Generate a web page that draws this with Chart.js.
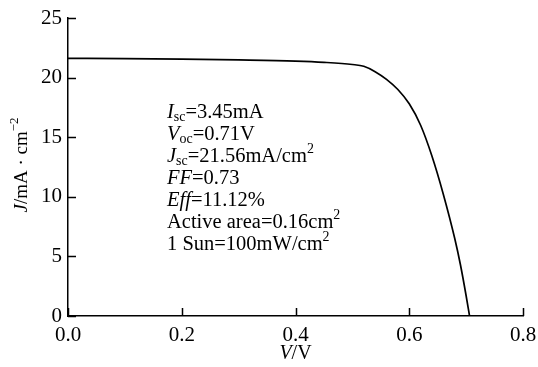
<!DOCTYPE html>
<html>
<head>
<meta charset="utf-8">
<script src="https://cdn.jsdelivr.net/npm/chart.js@4"></script>
<style>
  html, body { margin: 0; padding: 0; background: #fff; }
  #wrap { width: 538px; height: 367px; }
</style>
</head>
<body>
<div id="wrap"><canvas id="jv"></canvas></div>
<script>
// J-V curve
const voltage = [0, 0.1, 0.2, 0.3, 0.4, 0.45, 0.5, 0.52, 0.54, 0.56, 0.58, 0.6, 0.62, 0.64, 0.66, 0.68, 0.69, 0.70, 0.706];
const currentDensity = [21.62, 21.6, 21.55, 21.48, 21.38, 21.28, 21.1, 20.95, 20.5, 19.85, 19.0, 17.8, 16.0, 13.4, 10.2, 6.5, 4.3, 1.7, 0];

const xTicks = [0, 0.2, 0.4, 0.6, 0.8];
const yTicks = [0, 5, 10, 15, 20, 25];

// annotation lines: [text, style] where style is '', 'i' (italic), 's' (subscript), 'p' (superscript)
const infoLines = [
    [['I', 'i'], ['sc', 's'], ['=3.45mA', '']],
    [['V', 'i'], ['oc', 's'], ['=0.71V', '']],
    [['J', 'i'], ['sc', 's'], ['=21.56mA/cm', ''], ['2', 'p']],
    [['FF', 'i'], ['=0.73', '']],
    [['Eff', 'i'], ['=11.12%', '']],
    [['Active area=0.16cm', ''], ['2', 'p']],
    [['1 Sun=100mW/cm', ''], ['2', 'p']]
];

const FONT = '"Liberation Serif", "Times New Roman", serif';

function drawRuns(ctx, runs, x, y, size) {
    runs.forEach(([txt, st]) => {
        let fs = size, dy = 0, style = '';
        if (st === 'i') style = 'italic ';
        if (st === 's') { fs = size * 0.68; dy = size * 0.22; }
        if (st === 'p') { fs = size * 0.68; dy = -size * 0.38; }
        ctx.font = style + fs + 'px ' + FONT;
        ctx.fillText(txt, x, y + dy);
        x += ctx.measureText(txt).width;
    });
    return x;
}

const decorations = {
    id: 'decorations',
    afterDraw(chart) {
        const ctx = chart.ctx;
        const xs = chart.scales.x, ys = chart.scales.y;
        const area = chart.chartArea;
        ctx.save();
        ctx.strokeStyle = '#000';
        ctx.fillStyle = '#000';
        ctx.lineWidth = 1.5;

        // inward tick marks
        ctx.beginPath();
        yTicks.forEach(v => {
            const py = Math.round(ys.getPixelForValue(v)) + 0.5;
            ctx.moveTo(area.left, py);
            ctx.lineTo(area.left + 8, py);
        });
        xTicks.forEach(v => {
            const px = Math.round(xs.getPixelForValue(v)) + 0.5;
            ctx.moveTo(px, area.bottom);
            ctx.lineTo(px, area.bottom - 8);
        });
        ctx.stroke();

        // annotation block
        ctx.textBaseline = 'middle';
        ctx.textAlign = 'left';
        infoLines.forEach((runs, i) => {
            drawRuns(ctx, runs, 167, 113 + i * 22, 20.5);
        });

        // x axis title
        ctx.font = 'italic 20px ' + FONT;
        const w1 = ctx.measureText('V').width;
        ctx.font = '20px ' + FONT;
        const w2 = ctx.measureText('/V').width;
        const sx = (area.left + area.right) / 2 - (w1 + w2) / 2;
        drawRuns(ctx, [['V', 'i'], ['/V', '']], sx, 354, 20);

        // y axis title (rotated)
        ctx.translate(22, 165);
        ctx.rotate(-Math.PI / 2);
        const yRuns = [['J', 'i'], ['/mA \u00B7 cm', ''], ['\u22122', 'p']];
        let tw = 0;
        yRuns.forEach(([t, st]) => {
            ctx.font = (st === 'i' ? 'italic ' : '') + (st === 'p' ? 19 * 0.68 : 19) + 'px ' + FONT;
            tw += ctx.measureText(t).width;
        });
        drawRuns(ctx, yRuns, -tw / 2, 0, 19);
        ctx.restore();
    }
};

new Chart(document.getElementById('jv'), {
    type: 'scatter',
    data: {
        datasets: [{
            data: voltage.map((v, i) => ({ x: v, y: currentDensity[i] })),
            showLine: true,
            borderColor: '#000',
            borderWidth: 1.7,
            pointRadius: 0,
            cubicInterpolationMode: 'monotone',
            fill: false
        }]
    },
    options: {
        responsive: true,
        maintainAspectRatio: false,
        animation: false,
        layout: { padding: { top: 18, right: 15, left: 0, bottom: 0 } },
        plugins: { legend: { display: false }, tooltip: { enabled: false } },
        scales: {
            x: {
                type: 'linear',
                min: 0, max: 0.8,
                afterBuildTicks: s => { s.ticks = xTicks.map(v => ({ value: v })); },
                afterFit: s => { s.height = 51; s.paddingLeft = 0; s.paddingRight = 0; },
                grid: { display: false, drawTicks: false },
                border: { display: true, color: '#000', width: 1.5 },
                ticks: {
                    color: '#000', padding: 7,
                    font: { family: FONT, size: 21 },
                    callback: v => v.toFixed(1)
                }
            },
            y: {
                min: 0, max: 25,
                afterBuildTicks: s => { s.ticks = yTicks.map(v => ({ value: v })); },
                afterFit: s => { s.width = 68; s.paddingTop = 0; s.paddingBottom = 0; },
                grid: { display: false, drawTicks: false },
                border: { display: true, color: '#000', width: 1.5 },
                ticks: {
                    color: '#000', padding: 6,
                    font: { family: FONT, size: 21 }
                }
            }
        }
    },
    plugins: [decorations]
});
</script>
</body>
</html>
